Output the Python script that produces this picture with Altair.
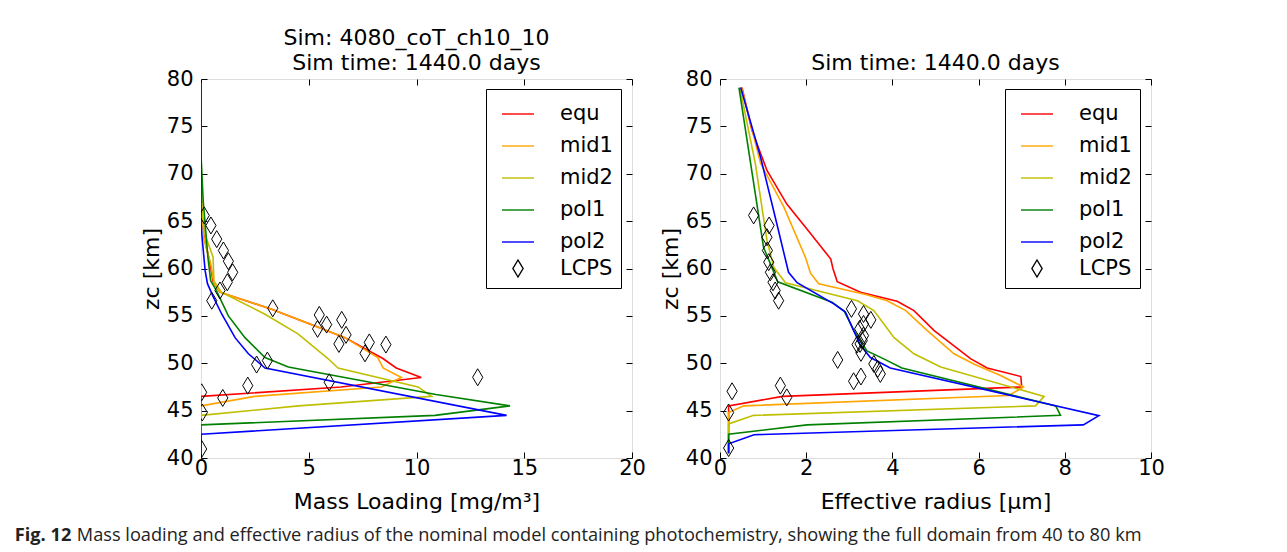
import altair as alt
import pandas as pd

# ---------------- data ----------------
series = ["equ", "mid1", "mid2", "pol1", "pol2", "LCPS"]
colors = ["#ff0000", "#ffa500", "#bfbf00", "#008000", "#0000ff", "#000000"]

# Mass loading [mg/m3] profiles vs altitude [km]
ml_equ_z = [79.5, 70, 66, 63, 60.8, 58.6, 57.5, 55.7, 53.8, 52.7, 50.5, 49.5, 48.5, 47.5, 46.5, 40.5]
ml_equ_x = [0, 0, 0.03, 0.17, 0.40, 0.56, 0.88, 3.28, 5.44, 6.68, 8.44, 9.06, 10.22, 6.5, 0, 0]
ml_mid1_z = [79.5, 70, 66, 63, 60.5, 58.5, 57.5, 55.7, 53.8, 52.7, 50.6, 49.5, 48.5, 47.5, 46.5, 45.5, 40.5]
ml_mid1_x = [0, 0, 0.03, 0.15, 0.45, 0.6, 0.88, 3.28, 5.44, 6.68, 8.2, 8.45, 9.3, 8.37, 2.49, 0, 0]
ml_mid2_z = [79.5, 72, 66, 63.7, 61.2, 58.7, 57.5, 55.2, 53.1, 50.5, 49.5, 47.5, 46.5, 45.5, 44.5, 40.5]
ml_mid2_x = [0, 0, 0.05, 0.17, 0.56, 0.60, 0.94, 2.95, 4.5, 5.89, 6.36, 10.07, 10.7, 4.52, 0, 0]
ml_pol1_z = [79.5, 72, 67.2, 61.2, 58.7, 57.7, 55.0, 52.7, 50.6, 49.6, 46.7, 45.5, 44.5, 43.5, 40.5]
ml_pol1_x = [0, 0, 0.1, 0.32, 0.45, 0.71, 1.27, 2.04, 2.97, 4.05, 10.9, 14.34, 10.86, 0, 0]
ml_pol2_z = [79.5, 70, 65, 63.3, 59.8, 58.4, 57.0, 55.2, 52.7, 51.0, 49.5, 44.5, 42.5, 40.5]
ml_pol2_x = [0, 0, 0, 0.05, 0.19, 0.3, 0.57, 0.96, 1.58, 2.2, 2.97, 14.18, 0, 0]

# Effective radius [um] profiles vs altitude [km]
re_equ_z = [79.1, 74.6, 70.35, 66.8, 63.7, 61.0, 60.0, 58.6, 57.5, 56.55, 55.56, 53.45, 50.46, 49.5, 48.6, 47.5, 46.5, 45.5, 40.5]
re_equ_x = [0.51, 0.74, 1.09, 1.55, 2.10, 2.57, 2.62, 2.72, 3.26, 4.11, 4.50, 4.97, 5.82, 6.20, 6.98, 7.0, 1.45, 0.2, 0.2]
re_mid1_z = [79.1, 71.1, 66.5, 61.2, 59.5, 58.4, 57.25, 56.6, 55.56, 53.45, 51.0, 49.9, 48.7, 47.5, 46.6, 45.5, 44.8, 40.5]
re_mid1_x = [0.50, 0.94, 1.48, 1.98, 2.10, 2.29, 3.38, 3.88, 4.31, 4.81, 5.43, 5.9, 6.51, 7.04, 6.7, 0.55, 0.2, 0.2]
re_mid2_z = [79.1, 71.06, 62.96, 60.1, 58.5, 56.6, 55.56, 52.7, 51.0, 49.6, 46.5, 45.5, 44.5, 43.6, 40.5]
re_mid2_x = [0.46, 0.82, 1.09, 1.25, 1.52, 3.19, 3.57, 4.04, 4.5, 5.12, 7.52, 7.32, 0.78, 0.2, 0.2]
re_pol1_z = [79.1, 62.25, 58.6, 56.44, 55.5, 53.45, 51.3, 50.46, 49.5, 45.5, 44.5, 43.5, 42.5, 40.5]
re_pol1_x = [0.44, 1.01, 1.34, 2.6, 2.88, 3.11, 3.41, 3.80, 4.22, 7.79, 7.9, 2.02, 0.2, 0.2]
re_pol2_z = [79.1, 71.76, 64.7, 59.6, 58.5, 56.27, 55.4, 53.45, 51.9, 50.6, 49.5, 44.47, 43.5, 42.46, 41.5, 40.5]
re_pol2_x = [0.48, 0.94, 1.32, 1.59, 1.79, 2.64, 2.91, 3.1, 3.26, 3.49, 3.95, 8.79, 8.43, 0.79, 0.2, 0.2]

# LCPS observations
lcps_ml_z = [65.6, 64.54, 63.1, 61.9, 60.77, 59.6, 58.55, 57.68, 56.6, 55.8, 55.1, 54.58, 54.08, 53.63,
             53.0, 52.04, 52.2, 51.97, 51.05, 50.28, 49.86, 48.52, 47.99, 47.64, 46.34, 46.93, 44.8, 40.95]
lcps_ml_x = [0.15, 0.46, 0.73, 1.04, 1.27, 1.47, 1.22, 0.88, 0.5, 3.33, 5.49, 6.53, 5.83, 5.41,
             6.73, 6.4, 7.81, 8.58, 7.61, 3.08, 2.58, 12.84, 5.95, 2.17, 1.01, 0.03, 0.06, 0.03]
lcps_re_z = [65.6, 64.54, 63.3, 61.9, 60.67, 59.6, 58.55, 57.68, 56.6, 55.74, 55.2, 54.58, 54.15, 53.63, 52.92,
             52.4, 52.04, 51.97, 51.1, 50.35, 49.93, 49.4, 48.87, 48.6, 48.1, 47.64, 46.4, 47.04, 44.8, 41.05]
lcps_re_x = [0.78, 1.14, 1.09, 1.1, 1.13, 1.17, 1.23, 1.28, 1.36, 3.05, 3.33, 3.5, 3.33, 3.24, 3.33,
             3.3, 3.25, 3.18, 3.27, 2.73, 3.57, 3.66, 3.72, 3.27, 3.1, 1.4, 1.55, 0.28, 0.2, 0.2]

ml_ticks = [0, 5, 10, 15, 20]
re_ticks = [0, 2, 4, 6, 8, 10]
z_ticks = [40, 45, 50, 55, 60, 65, 70, 75, 80]

# ---------------- tables ----------------
def line_table(pairs):
    rows = []
    for name, (zs, xs) in zip(series[:5], pairs):
        for i, (z, x) in enumerate(zip(zs, xs)):
            rows.append({"series": name, "z": z, "x": x, "idx": i})
    return pd.DataFrame(rows)

ml_lines = line_table([(ml_equ_z, ml_equ_x), (ml_mid1_z, ml_mid1_x), (ml_mid2_z, ml_mid2_x),
                       (ml_pol1_z, ml_pol1_x), (ml_pol2_z, ml_pol2_x)])
re_lines = line_table([(re_equ_z, re_equ_x), (re_mid1_z, re_mid1_x), (re_mid2_z, re_mid2_x),
                       (re_pol1_z, re_pol1_x), (re_pol2_z, re_pol2_x)])
ml_pts = pd.DataFrame({"series": "LCPS", "z": lcps_ml_z, "x": lcps_ml_x})
re_pts = pd.DataFrame({"series": "LCPS", "z": lcps_re_z, "x": lcps_re_x})

# ---------------- styling ----------------
W, H = 431, 379
FONT = "DejaVu Sans"
diamond = "M0,-1L0.6,0L0,1L-0.6,0Z"
shapes = ["stroke"] * 5 + [diamond]
sizes = [1024] * 5 + [289]


def legend():
    return alt.Legend(
        title=None, orient="none", legendX=285, legendY=10,
        strokeColor="black", fillColor="white", padding=8, cornerRadius=0,
        symbolOffset=7, labelOffset=25, labelFontSize=21, labelFont=FONT,
        labelColor="black", rowPadding=5, symbolStrokeWidth=1.4,
    )


def panel(lines_df, pts_df, xdomain, xticks, xtitle, title):
    xaxis = alt.Axis(
        values=xticks, grid=True, gridDash=[6, H - 12, 6], gridColor="black", gridOpacity=1,
        gridWidth=1, ticks=False, tickSize=0, domain=False, labelFontSize=21, labelFont=FONT,
        labelColor="black", labelPadding=-1, labelFlush=False, format="d",
        title=xtitle, titleFontSize=22, titleFont=FONT, titleFontWeight="normal",
        titleColor="black", titlePadding=13,
    )
    yaxis = alt.Axis(
        values=z_ticks, grid=True, gridDash=[6, W - 12, 6], gridColor="black", gridOpacity=1,
        gridWidth=1, ticks=False, tickSize=0, domain=False, labelFontSize=21, labelFont=FONT,
        labelColor="black", labelPadding=8, labelFlush=False, format="d",
        title="zc [km]", titleFontSize=22, titleFont=FONT, titleFontWeight="normal",
        titleColor="black", titlePadding=3,
    )
    xscale = alt.Scale(domain=xdomain, nice=False, zero=False)
    yscale = alt.Scale(domain=[40, 80], nice=False, zero=False)
    color = alt.Color("series:N", scale=alt.Scale(domain=series, range=colors), legend=legend())

    lines = alt.Chart(lines_df).mark_line(strokeWidth=1.6, clip=True).encode(
        x=alt.X("x:Q", scale=xscale, axis=xaxis),
        y=alt.Y("z:Q", scale=yscale, axis=yaxis),
        color=color,
        order=alt.Order("idx:Q"),
    )
    pts = alt.Chart(pts_df).mark_point(filled=False, strokeWidth=1, opacity=1, clip=True).encode(
        x=alt.X("x:Q", scale=xscale, axis=xaxis),
        y=alt.Y("z:Q", scale=yscale, axis=yaxis),
        color=color,
        shape=alt.Shape("series:N", scale=alt.Scale(domain=series, range=shapes), legend=legend()),
        size=alt.Size("series:N", scale=alt.Scale(type="ordinal", domain=series, range=sizes),
                      legend=legend()),
    )
    return alt.layer(lines, pts).properties(
        width=W, height=H,
        title=alt.TitleParams(title, fontSize=22, font=FONT, fontWeight="normal", color="black",
                              offset=-7, lineHeight=25, anchor="middle"),
    )


left = panel(ml_lines, ml_pts, [0, 20], ml_ticks, "Mass Loading [mg/m³]",
             ["Sim: 4080_coT_ch10_10", "Sim time: 1440.0 days"])
right = panel(re_lines, re_pts, [0, 10], re_ticks, "Effective radius [μm]",
              "Sim time: 1440.0 days")

caption_rest = ("Mass loading and effective radius of the nominal model containing photochemistry, "
                "showing the full domain from 40 to 80 km")
CAP_FONT = "Open Sans"

inner = alt.hconcat(left, right, spacing=12).resolve_scale(
    color="independent", shape="independent", size="independent"
).properties(
    title=alt.TitleParams(caption_rest, orient="bottom", anchor="start", fontSize=18.2, font=CAP_FONT,
                          fontWeight="normal", color="#222222", offset=14, dx=-63)
)

chart = alt.vconcat(inner).properties(
    title=alt.TitleParams("Fig. 12", orient="bottom", anchor="start", fontSize=18.2, font=CAP_FONT,
                          fontWeight="bold", color="#222222", offset=0, dy=-17, dx=-62),
    padding={"left": 14, "top": 26, "right": 5, "bottom": 2},
).configure_view(stroke="black", strokeWidth=1.3).configure(background="white")

chart.save("out.html", embed_options={"renderer": "svg", "actions": False})
